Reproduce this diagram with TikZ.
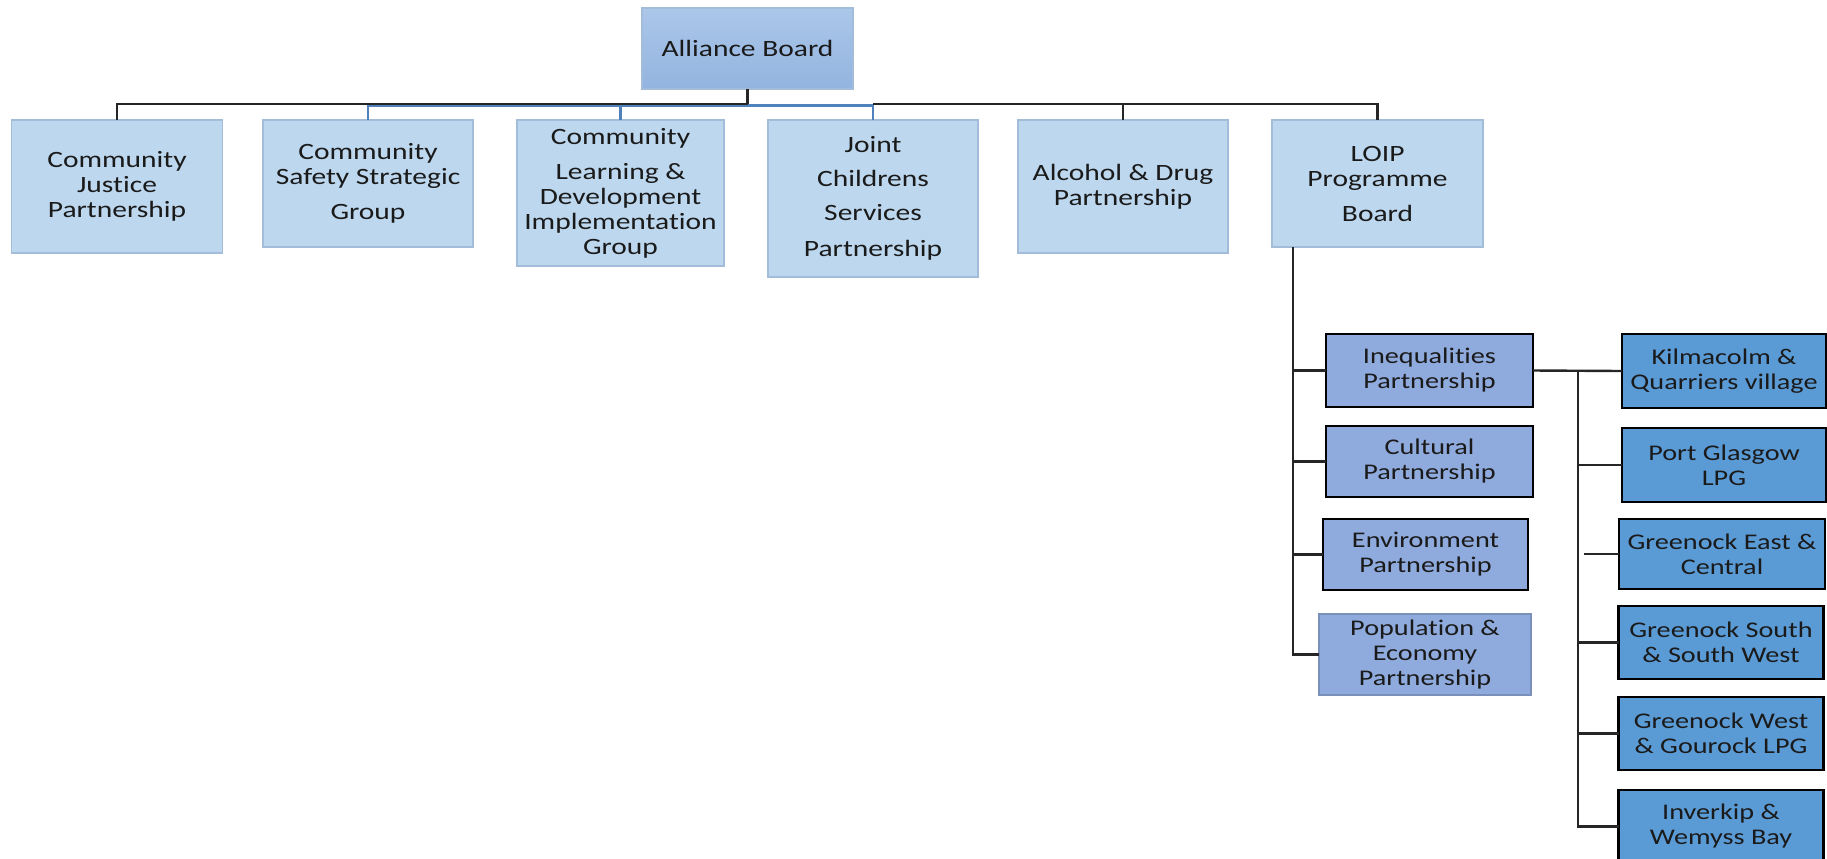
\documentclass[tikz,border=0pt]{standalone}
\usepackage{fontspec}
\setmainfont{Carlito}[FakeStretch=1.26,Ligatures={NoCommon,NoContextual}]
\usetikzlibrary{calc}
\definecolor{topfill}{HTML}{BDD7EE}
\definecolor{topdraw}{HTML}{A3BCD9}
\definecolor{abtop}{HTML}{ABC7E9}
\definecolor{abbot}{HTML}{93B4E0}
\definecolor{pfill}{HTML}{8FAADC}
\definecolor{lfill}{HTML}{5B9BD5}
\definecolor{bluelink}{HTML}{4F81BD}
\definecolor{txt}{HTML}{1A1A1A}
\begin{document}
\begin{tikzpicture}[x=0.5pt,y=-0.5pt,
  every node/.style={inner sep=0pt, outer sep=0pt, align=center, text=txt},
  topbox/.style={rectangle, fill=topfill, draw=topdraw, line width=0.8pt,
     font=\fontsize{11.7pt}{12.5pt}\selectfont},
  abbox/.style={rectangle, top color=abtop, bottom color=abbot, draw=topdraw, line width=0.8pt,
     font=\fontsize{11.7pt}{12.5pt}\selectfont},
  pbox/.style={rectangle, fill=pfill, draw=black, line width=1.3pt,
     font=\fontsize{11.2pt}{12.5pt}\selectfont},
  popbox/.style={rectangle, fill=pfill, draw=pfill!85!black, line width=0.6pt,
     font=\fontsize{11.2pt}{12.5pt}\selectfont},
  lbox/.style={rectangle, fill=lfill, draw=black, line width=1.3pt,
     font=\fontsize{11.2pt}{12.5pt}\selectfont},
  bk/.style={draw=black!85, line width=1.2pt},
  bl/.style={draw=bluelink, line width=1.1pt}]
\useasboundingbox (0,0) rectangle (1827,858);

% top level
\node[abbox, minimum width=105.5pt, minimum height=40.5pt] (ab) at (747.5,48.5) {Alliance Board};

\node[topbox, minimum width=105.5pt, minimum height=66.5pt] (cjp) at (117,186.5)
  {Community\\Justice\\Partnership};
\node[topbox, minimum width=105pt, minimum height=63.5pt] (csg) at (368,183.5)
  {Community\\Safety Strategic\\[5pt]Group};
\node[topbox, minimum width=103.5pt, minimum height=73pt] (cld) at (620.5,193)
  {Community\\[5pt]Learning \&\\Development\\Implementation\\Group};
\node[topbox, minimum width=105pt, minimum height=78.5pt] (jcsp) at (873,198.5)
  {Joint\\[4.5pt]Childrens\\[4.5pt]Services\\[5.5pt]Partnership};
\node[topbox, minimum width=105pt, minimum height=66.5pt] (adp) at (1123,186.5)
  {Alcohol \& Drug\\Partnership};
\node[topbox, minimum width=105.5pt, minimum height=63.5pt] (loip) at (1377.5,183.5)
  {LOIP\\Programme\\[5pt]Board};

% bus
\coordinate (bus) at (747.5,104);
\coordinate (busb) at (747.5,105.5);
\draw[bl] (csg.north) |- (jcsp.north |- busb) -- (jcsp.north);
\draw[bl] (cld.north) -- (cld.north |- busb);
\draw[bk] (ab.south) -- (bus);
\draw[bk] (cjp.north) |- (bus);
\draw[bk] (loip.north) |- (jcsp.north |- bus);
\draw[bk] (adp.north) -- (adp.north |- bus);

% partnerships
\node[pbox, minimum width=103.5pt, minimum height=36.5pt] (ineq) at (1429.5,370.5)
  {Inequalities\\Partnership};
\node[pbox, minimum width=103.5pt, minimum height=35.5pt] (cult) at (1429.5,461.5)
  {Cultural\\Partnership};
\node[pbox, minimum width=102.5pt, minimum height=35.5pt] (env) at (1425.5,554.5)
  {Environment\\Partnership};
\node[popbox, minimum width=106pt, minimum height=40.5pt] (pop) at (1425,654.5)
  {Population \&\\Economy\\Partnership};

\coordinate (lt) at (1293,247);
\draw[bk] (lt) |- (pop.west);
\draw[bk] (ineq.west) -- (ineq.west -| lt);
\draw[bk] (cult.west) -- (cult.west -| lt);
\draw[bk] (env.west) -- (env.west -| lt);

% localities
\node[lbox, minimum width=102pt, minimum height=37pt] (kilm) at (1724,371)
  {Kilmacolm \&\\Quarriers village};
\node[lbox, minimum width=102pt, minimum height=37pt] (pg) at (1724,465)
  {Port Glasgow\\LPG};
\node[lbox, minimum width=103pt, minimum height=35pt] (gre) at (1722,554)
  {Greenock East \&\\Central};
\node[lbox, minimum width=102.5pt, minimum height=36.5pt] (grs) at (1721,642.5)
  {Greenock South\\\& South West};
\node[lbox, minimum width=102.5pt, minimum height=36.5pt] (grw) at (1721,733.5)
  {Greenock West\\\& Gourock LPG};
\node[lbox, minimum width=102.5pt, minimum height=36.5pt] (inv) at (1721,826.5)
  {Inverkip \&\\Wemyss Bay};

\coordinate (rt) at (1578,371);
\coordinate (gret) at (1584,554);
\draw[bk] (ineq.east) -- (kilm.west);
\draw[bk] (rt) |- (inv.west);
\draw[bk] (pg.west) -- (pg.west -| rt);
\draw[bk] (gre.west) -- (gret);
\draw[bk] (grs.west) -- (grs.west -| rt);
\draw[bk] (grw.west) -- (grw.west -| rt);
\end{tikzpicture}
\end{document}
